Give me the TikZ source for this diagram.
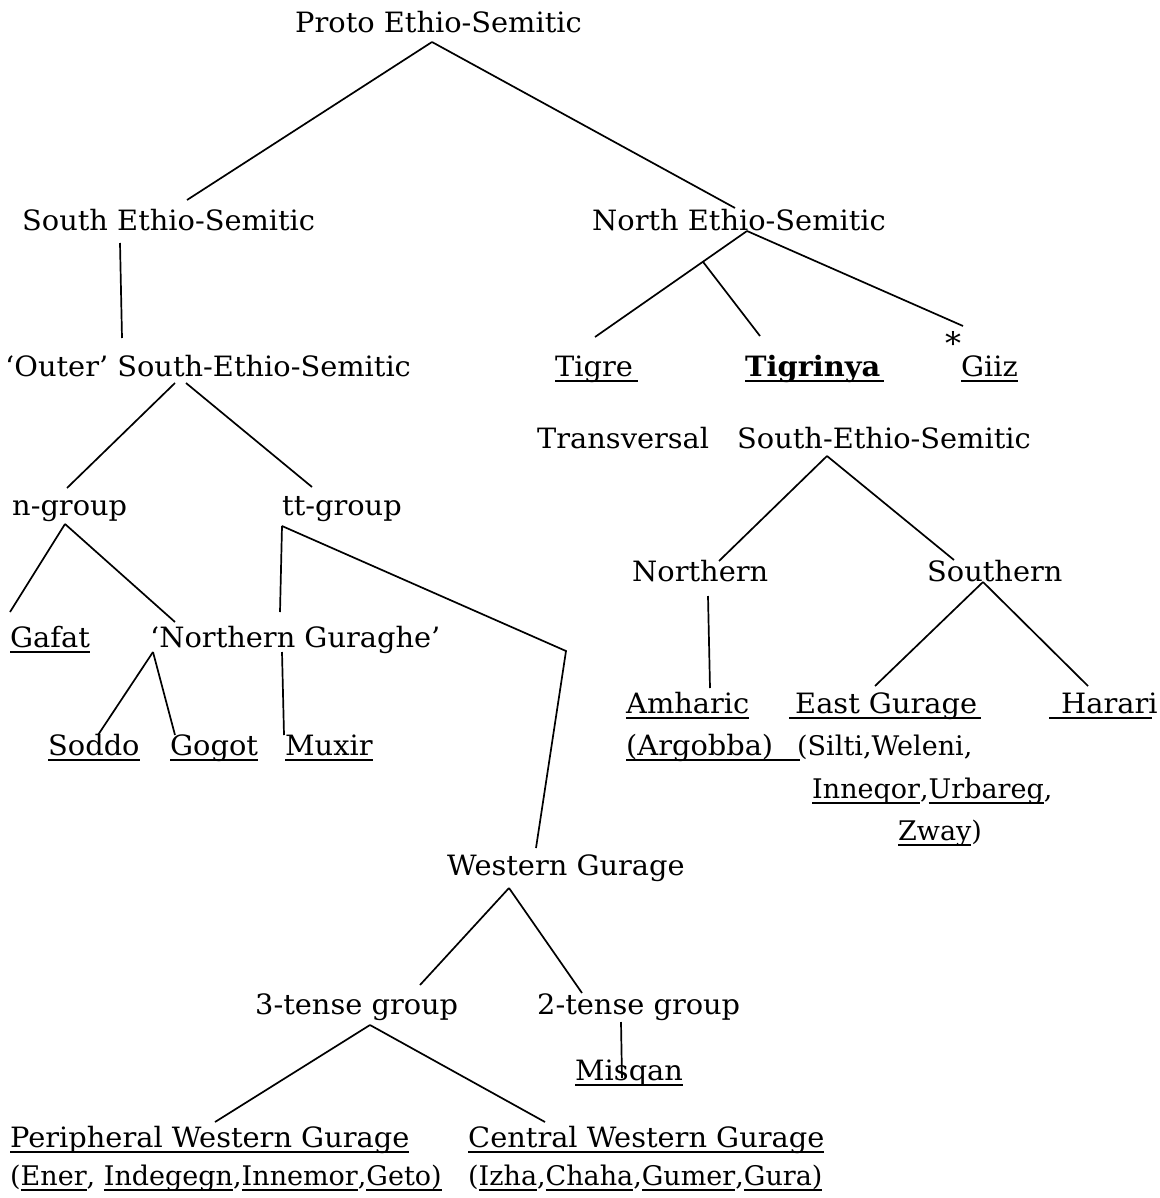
\documentclass[tikz,border=0pt]{standalone}
\usepackage{fontspec}
\setmainfont{DejaVu Serif}
\newfontfamily\widefont[FakeStretch=1.03]{DejaVu Serif}
% underline at a fixed depth below the baseline
\newcommand\ul[1]{\setbox0\hbox{#1}\rlap{\rule[-5.5pt]{\wd0}{1.6pt}}\box0}
% underline of a given width
\newcommand\ulw[2]{\rlap{\rule[-5.5pt]{#1}{1.6pt}}#2}
\begin{document}
\begin{tikzpicture}[x=1pt,y=-1pt,
  lbl/.style={anchor=base west, inner sep=0pt, font=\widefont\fontsize{28}{32}\selectfont},
  lst/.style={anchor=base west, inner sep=0pt, font=\fontsize{27}{32}\selectfont},
  edge/.style={line width=1.7pt}]
\useasboundingbox[fill=white] (0,0) rectangle (1159,1198);

% labels
\node[lbl] (proto) at (295,33) {Proto Ethio-Semitic};
\node[lbl] (south) at (22,230) {South Ethio-Semitic};
\node[lbl] (north) at (592,230) {North Ethio-Semitic};
\node[lbl] (outer) at (5,376) {‘Outer’ South-Ethio-Semitic};
\node[lbl] (tigre) at (555,376) {\ulw{83pt}{Tigre}};
\node[lbl] (tigrinya) at (745,376) {\ulw{139pt}{\textbf{Tigrinya}}};
\node[lbl] (giiz) at (945,376) {\raisebox{22pt}{\fontsize{31}{31}\selectfont *}\ul{Giiz}};
\node[lbl] (transv) at (537,448) {Transversal};
\node[lbl] (tsouth) at (737,448) {South-Ethio-Semitic};
\node[lbl] (ngroup) at (12,515) {n-group};
\node[lbl] (ttgroup) at (282,515) {tt-group};
\node[lbl] (northern) at (632,581) {Northern};
\node[lbl] (southern) at (927,581) {Southern};
\node[lbl] (gafat) at (10,647) {\ul{Gafat}};
\node[lbl] (ng) at (150,647) {‘Northern Guraghe’};
\node[lbl] (amharic) at (626,713) {\ul{Amharic}};
\node[lbl] (eastg) at (789,713) {\ulw{192pt}{\hspace{6pt}East Gurage}};
\node[lbl] (harari) at (1049,713) {\ulw{103pt}{\hspace{12pt}Harari}};
\node[lbl] (soddo) at (48,755) {\ul{Soddo}};
\node[lbl] (gogot) at (170,755) {\ul{Gogot}};
\node[lbl] (muxir) at (285,755) {\ul{Muxir}};
\node[lbl] (argobba) at (626,755) {\ulw{174pt}{(Argobba)}};
\node[lst] (silti) at (797,755) {(Silti,Weleni,};
\node[lst] (inneqor) at (812,798) {\ul{Inneqor},\ul{Urbareg},};
\node[lst] (zway) at (898,840) {\ul{Zway})};
\node[lbl] (western) at (447,875) {Western Gurage};
\node[lbl] (three) at (255,1014) {3-tense group};
\node[lbl] (two) at (537,1014) {2-tense group};
\node[lbl] (misqan) at (575,1080) {\ul{Misqan}};
\node[lbl] (periph) at (10,1147) {\ul{Peripheral Western Gurage}};
\node[lbl] (central) at (468,1147) {\ul{Central Western Gurage}};
\node[lst] (ener) at (10,1185) {(\ul{Ener}, \ul{Indegegn},\ul{Innemor},\ul{Geto)}};
\node[lst] (izha) at (468,1185) {(\ul{Izha},\ul{Chaha},\ul{Gumer},\ul{Gura)}};

% branches
\draw[edge] ([shift={(137,9)}]proto.base west) -- ([shift={(165,-30)}]south.base west);
\draw[edge] ([shift={(137,9)}]proto.base west) -- ([shift={(143,-22)}]north.base west);
\draw[edge] ([shift={(98,13)}]south.base west) -- ([shift={(117,-38)}]outer.base west);

\draw[edge] ([shift={(155,1)}]north.base west) -- ([shift={(40,-39)}]tigre.base west)
  coordinate[pos=0.29] (nsplit);
\draw[edge] (nsplit) -- ([shift={(15,-40)}]tigrinya.base west);
\draw[edge] ([shift={(155,1)}]north.base west) -- ([shift={(18,-50)}]giiz.base west);

\draw[edge] ([shift={(170,7)}]outer.base west) -- ([shift={(55,-27)}]ngroup.base west);
\draw[edge] ([shift={(181,7)}]outer.base west) -- ([shift={(30,-28)}]ttgroup.base west);

\draw[edge] ([shift={(53,9)}]ngroup.base west) -- ([shift={(0,-35)}]gafat.base west);
\draw[edge] ([shift={(53,9)}]ngroup.base west) -- ([shift={(25,-25)}]ng.base west);

\draw[edge] ([shift={(0,11)}]ttgroup.base west) -- ([shift={(130,-35)}]ng.base west);
\draw[edge] ([shift={(132,5)}]ng.base west) -- ([shift={(-1,-20)}]muxir.base west);
\draw[edge] ([shift={(0,11)}]ttgroup.base west) -- (566,651) -- ([shift={(89,-27)}]western.base west);

\draw[edge] ([shift={(3,5)}]ng.base west) -- ([shift={(50,-20)}]soddo.base west);
\draw[edge] ([shift={(3,5)}]ng.base west) -- ([shift={(5,-20)}]gogot.base west);

\draw[edge] ([shift={(90,8)}]tsouth.base west) -- ([shift={(87,-20)}]northern.base west);
\draw[edge] ([shift={(90,8)}]tsouth.base west) -- ([shift={(27,-21)}]southern.base west);
\draw[edge] ([shift={(76,15)}]northern.base west) -- ([shift={(84,-25)}]amharic.base west);
\draw[edge] ([shift={(56,1)}]southern.base west) -- ([shift={(86,-27)}]eastg.base west);
\draw[edge] ([shift={(56,1)}]southern.base west) -- ([shift={(39,-27)}]harari.base west);

\draw[edge] ([shift={(62,13)}]western.base west) -- ([shift={(165,-29)}]three.base west);
\draw[edge] ([shift={(62,13)}]western.base west) -- ([shift={(45,-21)}]two.base west);
\draw[edge] ([shift={(115,11)}]three.base west) -- ([shift={(205,-25)}]periph.base west);
\draw[edge] ([shift={(115,11)}]three.base west) -- ([shift={(77,-25)}]central.base west);
\draw[edge] ([shift={(84,8)}]two.base west) -- ([shift={(47,-2)}]misqan.base west);
\end{tikzpicture}
\end{document}
